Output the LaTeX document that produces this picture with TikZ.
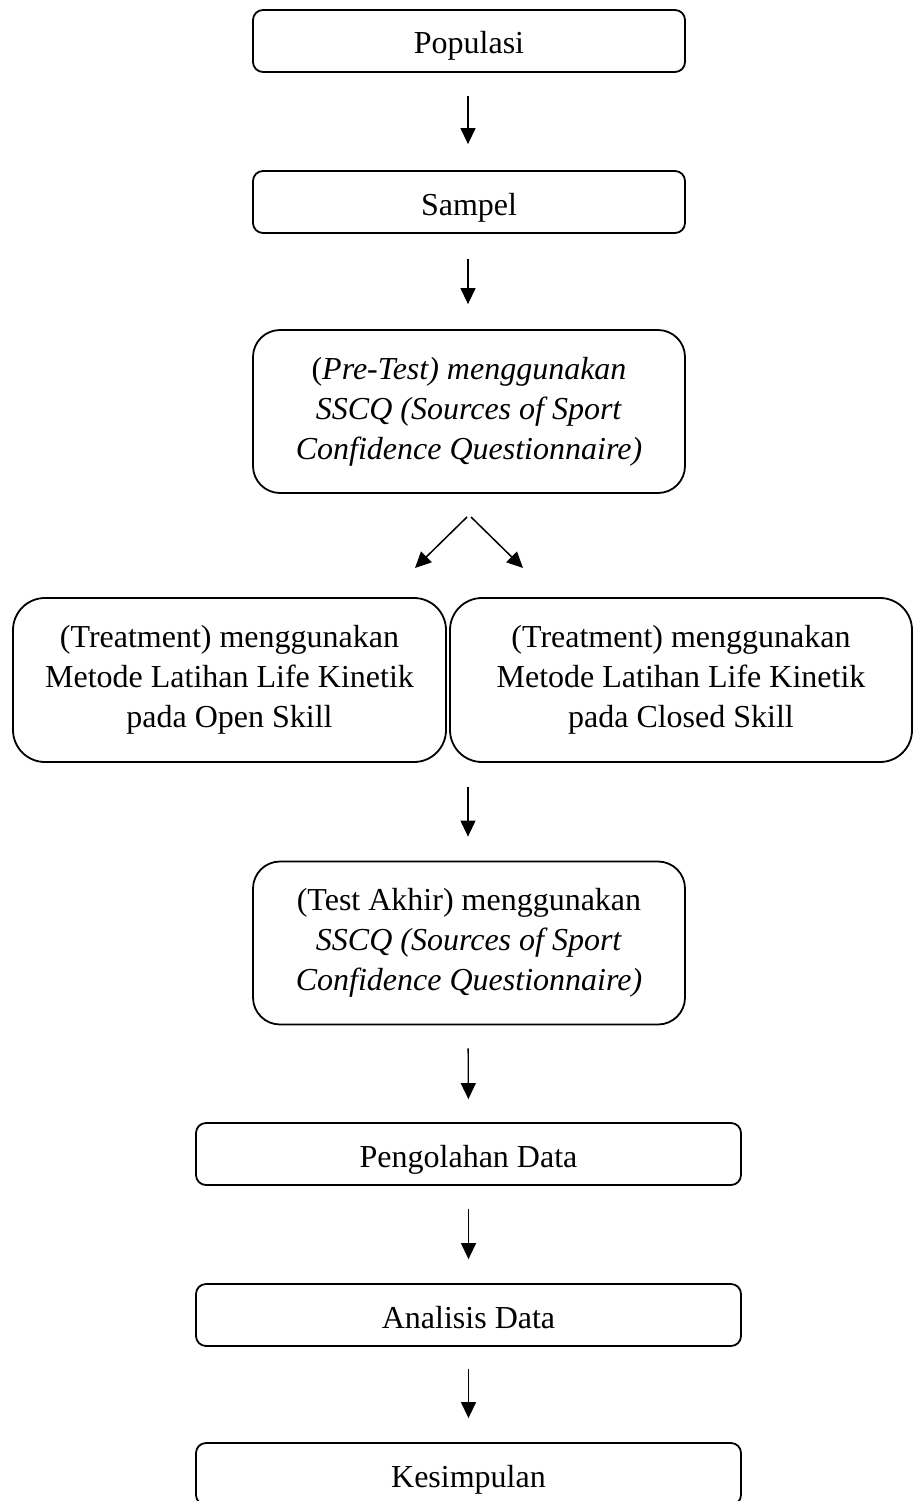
\documentclass[tikz,border=0pt]{standalone}
\usepackage{fontspec}
\setmainfont{Liberation Serif}
\usetikzlibrary{arrows.meta}
\begin{document}
\begin{tikzpicture}[x=1pt,y=-1pt,
  every node/.style={font=\fontsize{32}{40}\selectfont, inner sep=0pt, align=center},
  single/.style={text height=26pt, text depth=0pt},
  smallbox/.style={draw, single, line width=1.8pt, rounded corners=10pt, minimum width=432pt, minimum height=62pt},
  widebox/.style={draw, single, line width=1.8pt, rounded corners=10pt, minimum width=545pt, minimum height=62pt},
  bigbox/.style={draw, line width=1.8pt, rounded corners=27pt, minimum width=432pt, minimum height=163pt},
  treatbox/.style={draw, line width=1.8pt, rounded corners=32pt, minimum height=164pt},
  arr/.style={line width=1.3pt, -{Triangle[length=16pt,width=15pt]}}
]
\useasboundingbox (0,0) rectangle (913,1501);

\node[smallbox] (pop) at (469,41) {Populasi};
\node[smallbox] (samp) at (469,202) {Sampel};
\node[bigbox] (pre) at (469,411.5) {(\textit{Pre-Test) menggunakan}\\ \textit{SSCQ (Sources of Sport}\\ \textit{Confidence Questionnaire)}};
\node[treatbox, minimum width=433pt] (open) at (229.5,680) {(Treatment) menggunakan\\ Metode Latihan Life Kinetik\\ pada Open Skill};
\node[treatbox, minimum width=462pt] (closed) at (681,680) {(Treatment) menggunakan\\ Metode Latihan Life Kinetik\\ pada Closed Skill};
\node[bigbox] (post) at (469,943) {(Test Akhir) menggunakan\\ \textit{SSCQ (Sources of Sport}\\ \textit{Confidence Questionnaire)}};
\node[widebox] (olah) at (468.5,1154) {Pengolahan Data};
\node[widebox] (anal) at (468.5,1315) {Analisis Data};
\node[widebox] (kes) at (468.5,1474) {Kesimpulan};

\coordinate (sl) at (467,517);
\coordinate (sr) at (471,517);
\coordinate (tl) at (415,568);
\coordinate (tr) at (523,568);
\coordinate (tc) at (468,787);

\draw[arr, shorten <=23pt, shorten >=26pt] ([xshift=-1pt]pop.south) -- ([xshift=-1pt]samp.north);
\draw[arr, shorten <=25pt, shorten >=25pt] ([xshift=-1pt]samp.south) -- ([xshift=-1pt]pre.north);
\draw[arr, line width=1.5pt] (sl) -- (tl);
\draw[arr, line width=1.5pt] (sr) -- (tr);
\draw[arr, shorten >=24pt] (tc) -- ([xshift=-1pt]post.north);
\draw[arr, shorten <=23pt, shorten >=23pt] ([xshift=-1pt]post.south) -- (olah.north);
\draw[arr, shorten <=23pt, shorten >=24pt] (olah.south) -- (anal.north);
\draw[arr, shorten <=22pt, shorten >=24pt] (anal.south) -- (kes.north);
\end{tikzpicture}
\end{document}
